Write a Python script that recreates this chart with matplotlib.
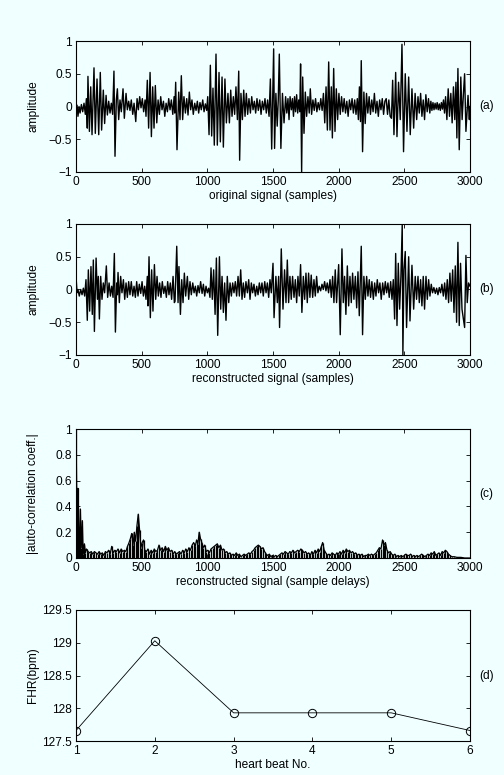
import matplotlib
matplotlib.use("Agg")
import matplotlib.pyplot as plt

# ---- panel (a): original signal, extrema (sample, amplitude)
orig_n = [0, 8, 15, 23, 31, 41, 51, 61, 71, 79, 86, 91, 102, 112, 122, 137, 147, 160, 173, 185,
          195, 208, 218, 229, 239, 249, 259, 269, 279, 289, 297, 307, 315, 325, 335, 345, 358, 368, 381, 391,
          401, 411, 421, 432, 442, 455, 465, 475, 485, 495, 505, 515, 526, 533, 543, 553, 564, 574, 584, 594,
          604, 615, 625, 635, 645, 655, 666, 676, 686, 696, 706, 716, 726, 737, 747, 752, 759, 769, 782, 792,
          802, 812, 822, 833, 843, 853, 863, 873, 883, 893, 904, 914, 924, 934, 944, 954, 965, 975, 985, 995,
          1003, 1013, 1023, 1033, 1043, 1053, 1066, 1076, 1089, 1099, 1112, 1122, 1134, 1145, 1157, 1168, 1178, 1188, 1198, 1208,
          1218, 1229, 1239, 1246, 1256, 1267, 1277, 1287, 1297, 1307, 1317, 1328, 1338, 1348, 1358, 1368, 1378, 1388, 1399, 1409,
          1419, 1429, 1439, 1449, 1459, 1470, 1480, 1490, 1505, 1512, 1522, 1532, 1540, 1548, 1560, 1572, 1584, 1596, 1605, 1614,
          1622, 1630, 1640, 1648, 1656, 1664, 1672, 1680, 1688, 1696, 1704, 1710, 1718, 1726, 1736, 1746, 1756, 1766, 1776, 1784,
          1794, 1804, 1814, 1824, 1834, 1844, 1854, 1864, 1874, 1884, 1894, 1904, 1914, 1924, 1934, 1944, 1952, 1962, 1972, 1982,
          1992, 2002, 2012, 2022, 2032, 2042, 2052, 2062, 2072, 2082, 2092, 2102, 2112, 2122, 2132, 2142, 2150, 2158, 2166, 2172,
          2182, 2192, 2202, 2212, 2222, 2232, 2242, 2252, 2262, 2272, 2282, 2292, 2302, 2312, 2322, 2332, 2342, 2352, 2362, 2372,
          2382, 2392, 2402, 2411, 2421, 2434, 2444, 2456, 2469, 2482, 2494, 2507, 2520, 2533, 2545, 2558, 2571, 2582, 2594, 2604,
          2614, 2624, 2634, 2644, 2654, 2664, 2674, 2684, 2694, 2702, 2710, 2718, 2726, 2734, 2742, 2750, 2758, 2766, 2774, 2782,
          2790, 2798, 2806, 2814, 2824, 2834, 2844, 2854, 2864, 2874, 2884, 2893, 2900, 2908, 2918, 2930, 2940, 2950, 2959, 2969,
          2985, 2995, 3000]
orig_v = [-0.05, 0.02, -0.15, 0.0, -0.1, 0.03, -0.08, 0.05, -0.12, 0.12, -0.33, 0.46, -0.38, 0.3, -0.43, 0.59, -0.41, 0.42, -0.43, 0.52,
          -0.36, 0.25, -0.26, 0.17, -0.13, 0.08, -0.1, 0.05, -0.12, 0.54, -0.76, 0.1, 0.27, -0.2, 0.1, -0.08, 0.27, -0.18, 0.2, -0.05,
          0.08, -0.06, 0.1, -0.12, 0.05, -0.23, 0.12, -0.05, 0.15, -0.02, 0.12, -0.08, 0.1, -0.15, 0.4, -0.33, 0.52, -0.46, 0.3, -0.33,
          0.32, -0.25, 0.1, -0.12, 0.15, -0.05, 0.08, -0.15, 0.05, -0.08, 0.12, -0.05, 0.1, -0.12, 0.15, -0.1, 0.37, -0.66, 0.22, -0.2,
          0.47, -0.2, 0.15, -0.1, 0.12, -0.13, 0.22, -0.05, 0.1, -0.12, 0.05, -0.06, 0.08, -0.1, 0.06, -0.05, 0.1, -0.08, 0.04, -0.06,
          0.15, -0.43, 0.63, -0.45, 0.28, -0.59, 0.8, -0.59, 0.52, -0.54, 0.45, -0.62, 0.42, -0.25, 0.2, -0.25, 0.25, -0.15, 0.15, -0.12,
          0.3, -0.2, 0.54, -0.82, 0.2, -0.2, 0.25, -0.15, 0.2, -0.12, 0.12, -0.1, 0.15, -0.05, 0.08, -0.1, 0.12, -0.06, 0.1, -0.12,
          0.08, -0.05, 0.12, -0.1, 0.1, -0.15, 0.42, -0.65, 0.88, -0.64, 0.2, -0.3, 0.1, 0.8, -0.64, 0.2, -0.25, 0.15, -0.1, 0.12,
          -0.2, 0.15, -0.05, 0.12, -0.15, 0.15, -0.08, 0.18, -0.1, 0.1, -0.08, 0.65, -1.0, 0.45, -0.41, 0.22, -0.15, 0.15, -0.1, 0.27,
          -0.12, 0.1, -0.06, 0.12, -0.08, 0.06, -0.05, 0.12, -0.06, 0.2, -0.25, 0.3, -0.36, 0.68, -0.36, 0.3, -0.48, 0.58, -0.38, 0.27,
          -0.2, 0.2, -0.12, 0.15, -0.08, 0.12, -0.1, 0.08, -0.15, 0.1, -0.05, 0.12, -0.1, 0.1, -0.12, 0.12, -0.2, 0.3, -0.23, 0.7,
          -0.69, 0.22, -0.26, 0.2, -0.1, 0.15, -0.12, 0.1, -0.08, 0.2, -0.1, 0.08, -0.15, 0.1, -0.05, 0.12, -0.12, 0.08, 0.12, -0.12,
          0.1, -0.15, -0.18, 0.4, -0.43, 0.52, -0.46, 0.37, -0.2, 0.95, -0.69, 0.5, -0.38, 0.45, -0.43, 0.27, -0.33, 0.2, -0.2, 0.15,
          -0.1, 0.2, -0.15, 0.1, -0.2, 0.18, -0.08, 0.12, -0.1, 0.08, -0.06, 0.06, -0.05, 0.05, -0.04, 0.06, -0.05, 0.04, -0.06, 0.06,
          -0.04, 0.1, -0.1, 0.15, -0.2, 0.27, -0.15, 0.2, -0.25, 0.3, -0.2, 0.37, -0.48, 0.58, -0.66, 0.45, -0.2, 0.2, 0.5, -0.38,
          0.17, -0.2, 0.0]

# ---- panel (b): reconstructed signal
rec_n = [0, 8, 15, 25, 36, 46, 56, 66, 76, 86, 94, 104, 114, 124, 132, 140, 153, 163, 170, 178,
         188, 198, 208, 218, 231, 241, 252, 262, 272, 282, 292, 300, 310, 315, 320, 330, 340, 350, 361, 371,
         381, 391, 401, 411, 421, 432, 442, 452, 462, 472, 482, 493, 503, 513, 523, 533, 543, 548, 556, 566,
         576, 586, 597, 607, 617, 627, 637, 647, 657, 668, 678, 688, 698, 708, 718, 728, 739, 749, 754, 767,
         777, 784, 795, 805, 815, 825, 835, 848, 858, 868, 878, 889, 899, 909, 919, 929, 939, 949, 960, 970,
         980, 990, 1000, 1010, 1020, 1028, 1038, 1048, 1059, 1069, 1079, 1092, 1102, 1112, 1122, 1132, 1142, 1152, 1163, 1173,
         1183, 1193, 1203, 1213, 1223, 1234, 1244, 1254, 1264, 1274, 1284, 1294, 1305, 1315, 1325, 1335, 1345, 1355, 1366, 1376,
         1386, 1396, 1406, 1416, 1426, 1437, 1447, 1457, 1467, 1477, 1487, 1500, 1508, 1522, 1533, 1543, 1550, 1563, 1576, 1588,
         1599, 1609, 1619, 1629, 1639, 1649, 1660, 1670, 1680, 1690, 1700, 1710, 1720, 1731, 1741, 1751, 1761, 1771, 1781, 1791,
         1802, 1812, 1822, 1832, 1842, 1852, 1863, 1873, 1883, 1893, 1903, 1913, 1923, 1934, 1944, 1954, 1964, 1974, 1984, 2000,
         2012, 2025, 2035, 2045, 2055, 2066, 2076, 2086, 2096, 2106, 2116, 2127, 2137, 2147, 2157, 2172, 2182, 2192, 2203, 2213,
         2223, 2233, 2243, 2253, 2264, 2274, 2284, 2294, 2304, 2314, 2324, 2335, 2345, 2355, 2365, 2375, 2385, 2396, 2406, 2416,
         2426, 2434, 2444, 2454, 2464, 2474, 2484, 2489, 2497, 2507, 2517, 2533, 2543, 2558, 2571, 2583, 2593, 2604, 2614, 2624,
         2634, 2644, 2654, 2665, 2675, 2685, 2695, 2705, 2715, 2725, 2736, 2746, 2756, 2766, 2776, 2786, 2797, 2807, 2817, 2827,
         2837, 2847, 2857, 2868, 2878, 2888, 2898, 2908, 2918, 2928, 2939, 2959, 2969, 2979, 2989, 3000]
rec_v = [0.2, -0.05, 0.0, -0.1, 0.0, -0.08, 0.02, -0.1, 0.15, -0.47, 0.3, -0.33, 0.35, -0.38, 0.45, -0.64, 0.48, -0.15, 0.2, -0.45,
         0.2, -0.15, 0.1, -0.05, 0.36, -0.12, 0.1, -0.1, 0.05, -0.12, 0.55, -0.65, 0.1, -0.08, 0.26, -0.2, 0.2, -0.05, 0.15, -0.15,
         0.1, -0.12, 0.12, -0.08, 0.12, -0.1, 0.05, -0.12, 0.12, -0.1, 0.08, -0.06, 0.12, -0.1, 0.05, -0.15, 0.2, -0.25, 0.5, -0.43,
         0.3, -0.33, 0.38, -0.15, 0.2, -0.1, 0.1, -0.12, 0.12, -0.06, 0.05, -0.12, 0.12, -0.08, 0.1, -0.15, 0.2, -0.2, -0.18, 0.66,
         -0.2, 0.35, -0.38, 0.15, -0.2, 0.25, -0.1, 0.2, -0.15, 0.12, -0.08, 0.1, -0.05, 0.05, -0.1, 0.06, -0.05, 0.12, -0.06, 0.08,
         -0.1, 0.05, -0.05, 0.02, -0.12, 0.33, -0.15, 0.3, -0.38, 0.48, -0.7, 0.5, -0.3, 0.2, -0.35, 0.1, -0.47, 0.2, -0.2, 0.1,
         -0.1, 0.1, -0.05, 0.12, -0.1, 0.2, -0.1, 0.3, -0.15, 0.1, -0.12, 0.12, -0.05, 0.15, -0.15, 0.1, -0.05, 0.08, -0.1, 0.05,
         -0.08, 0.1, -0.05, 0.1, -0.1, 0.12, -0.05, 0.1, -0.12, 0.15, -0.05, 0.4, -0.43, 0.2, -0.2, 0.2, -0.58, 0.62, -0.3, 0.3,
         -0.2, 0.45, -0.2, 0.2, -0.15, 0.2, -0.12, 0.15, -0.2, 0.2, -0.1, 0.38, -0.35, 0.2, -0.15, 0.25, -0.2, 0.25, -0.12, 0.22,
         -0.12, 0.15, -0.1, 0.2, -0.05, 0.05, -0.02, 0.08, 0.0, 0.12, -0.02, 0.1, -0.05, 0.15, -0.12, 0.2, -0.2, 0.3, -0.2, 0.38,
         -0.69, 0.62, -0.2, 0.2, -0.38, 0.36, -0.25, 0.2, -0.2, 0.25, -0.15, 0.2, -0.28, 0.27, -0.4, 0.66, -0.69, 0.2, -0.15, 0.2,
         -0.1, 0.15, -0.12, 0.12, -0.15, 0.1, -0.1, 0.15, -0.05, 0.1, -0.15, 0.1, -0.08, 0.12, -0.05, 0.1, -0.12, 0.12, -0.15, 0.15,
         -0.45, 0.55, -0.55, 0.4, -0.3, 0.2, 1.0, -1.0, 0.3, 0.58, -0.58, 0.5, -0.48, 0.37, -0.3, 0.2, -0.15, 0.2, -0.2, 0.15,
         -0.25, 0.2, -0.3, 0.2, -0.15, 0.15, -0.1, 0.08, -0.05, 0.03, -0.06, 0.02, -0.08, 0.03, -0.05, 0.08, -0.1, 0.1, -0.15, 0.15,
         -0.2, 0.25, -0.18, 0.3, -0.35, 0.36, -0.5, 0.72, -0.55, 0.4, -0.3, -0.58, 0.52, -0.2, 0.1, 0.05]

# ---- panel (c): |auto-correlation| peaks (lag, value)
lag = [0, 5, 10, 15, 20, 26, 33, 40, 48, 55, 64, 72, 80, 92, 104, 116, 128, 140, 152, 164,
       176, 188, 200, 212, 224, 236, 248, 260, 272, 284, 296, 308, 320, 332, 344, 356, 368, 380, 392, 404,
       414, 424, 434, 444, 454, 464, 474, 484, 494, 504, 514, 524, 536, 548, 560, 572, 584, 596, 608, 620,
       632, 644, 656, 668, 680, 692, 704, 716, 728, 740, 752, 764, 776, 788, 800, 812, 824, 836, 848, 860,
       872, 884, 896, 908, 918, 928, 938, 948, 958, 968, 980, 992, 1004, 1016, 1028, 1040, 1052, 1064, 1076, 1088,
       1100, 1112, 1124, 1136, 1148, 1160, 1172, 1184, 1196, 1208, 1220, 1232, 1244, 1256, 1268, 1280, 1292, 1304, 1316, 1328,
       1340, 1352, 1364, 1376, 1388, 1400, 1412, 1424, 1436, 1448, 1460, 1472, 1484, 1496, 1508, 1520, 1532, 1544, 1556, 1568,
       1580, 1592, 1604, 1616, 1628, 1640, 1652, 1664, 1676, 1688, 1700, 1712, 1724, 1736, 1748, 1760, 1772, 1784, 1796, 1808,
       1820, 1832, 1844, 1856, 1868, 1878, 1890, 1902, 1914, 1926, 1938, 1950, 1962, 1974, 1986, 1998, 2010, 2022, 2034, 2046,
       2058, 2070, 2082, 2094, 2106, 2118, 2130, 2142, 2154, 2166, 2178, 2190, 2202, 2214, 2226, 2238, 2250, 2262, 2274, 2286,
       2298, 2310, 2322, 2334, 2344, 2356, 2368, 2380, 2392, 2404, 2416, 2428, 2440, 2452, 2464, 2476, 2488, 2500, 2512, 2524,
       2536, 2548, 2560, 2572, 2584, 2596, 2608, 2620, 2632, 2644, 2656, 2668, 2680, 2692, 2704, 2716, 2728, 2740, 2752, 2764,
       2776, 2788, 2800, 2812, 2824, 2836, 2848, 2860, 2880, 2900, 2930, 2960, 3000]
acf = [1.0, 0.54, 0.06, 0.54, 0.2, 0.12, 0.38, 0.08, 0.29, 0.03, 0.11, 0.04, 0.07, 0.05, 0.04, 0.05, 0.03, 0.05, 0.04, 0.03,
       0.05, 0.03, 0.04, 0.02, 0.05, 0.04, 0.06, 0.03, 0.09, 0.04, 0.06, 0.05, 0.07, 0.04, 0.07, 0.05, 0.06, 0.05, 0.09, 0.12,
       0.15, 0.19, 0.1, 0.2, 0.13, 0.25, 0.34, 0.22, 0.08, 0.12, 0.14, 0.06, 0.05, 0.07, 0.03, 0.06, 0.04, 0.07, 0.05, 0.06,
       0.1, 0.06, 0.08, 0.05, 0.09, 0.06, 0.08, 0.05, 0.06, 0.03, 0.05, 0.03, 0.04, 0.05, 0.03, 0.06, 0.04, 0.07, 0.05, 0.08,
       0.06, 0.1, 0.12, 0.09, 0.14, 0.11, 0.2, 0.15, 0.12, 0.08, 0.1, 0.05, 0.06, 0.04, 0.07, 0.08, 0.09, 0.1, 0.11, 0.08,
       0.1, 0.06, 0.07, 0.04, 0.05, 0.03, 0.04, 0.02, 0.03, 0.02, 0.04, 0.02, 0.03, 0.01, 0.02, 0.03, 0.02, 0.03, 0.04, 0.03,
       0.05, 0.06, 0.08, 0.09, 0.1, 0.09, 0.07, 0.08, 0.05, 0.03, 0.02, 0.03, 0.01, 0.02, 0.01, 0.02, 0.01, 0.02, 0.03, 0.04,
       0.03, 0.05, 0.04, 0.03, 0.05, 0.04, 0.06, 0.04, 0.05, 0.06, 0.05, 0.07, 0.06, 0.04, 0.05, 0.03, 0.04, 0.02, 0.05, 0.03,
       0.06, 0.04, 0.07, 0.05, 0.09, 0.12, 0.06, 0.04, 0.02, 0.03, 0.02, 0.04, 0.03, 0.02, 0.04, 0.03, 0.05, 0.03, 0.06, 0.04,
       0.07, 0.05, 0.06, 0.04, 0.05, 0.03, 0.04, 0.02, 0.03, 0.02, 0.03, 0.01, 0.02, 0.02, 0.03, 0.02, 0.03, 0.02, 0.03, 0.04,
       0.06, 0.08, 0.07, 0.14, 0.1, 0.12, 0.06, 0.04, 0.05, 0.03, 0.02, 0.03, 0.01, 0.02, 0.01, 0.02, 0.01, 0.02, 0.03, 0.02,
       0.02, 0.03, 0.01, 0.02, 0.01, 0.02, 0.01, 0.02, 0.03, 0.02, 0.01, 0.02, 0.03, 0.02, 0.04, 0.03, 0.05, 0.02, 0.03, 0.04,
       0.02, 0.05, 0.04, 0.06, 0.05, 0.03, 0.02, 0.01, 0.01, 0.005, 0.005, 0.0, 0.0]

# ---- panel (d): fetal heart rate per beat
beat = [1, 2, 3, 4, 5, 6]
fhr = [127.66, 129.03, 127.93, 127.93, 127.93, 127.66]

bg = "#f0ffff"
plt.rcParams["font.family"] = ["Liberation Sans", "DejaVu Sans"]
plt.rcParams["font.size"] = 8.6

fig = plt.figure(figsize=(5.04, 7.75), dpi=100, facecolor=bg)

left, width = 76 / 504, 394 / 504
rects = [(41, 172), (224, 355), (429, 558), (610, 741)]
axes = []
for top, bot in rects:
    ax = fig.add_axes([left, 1 - bot / 775, width, (bot - top) / 775])
    ax.set_facecolor(bg)
    ax.tick_params(direction="in", length=3, width=0.6, top=True, right=True, pad=3)
    for s in ax.spines.values():
        s.set_linewidth(0.8)
    axes.append(ax)

ax1, ax2, ax3, ax4 = axes

ax1.plot(orig_n, orig_v, color="black", lw=1.0)
ax1.set_xlim(0, 3000)
ax1.set_ylim(-1, 1)
ax1.set_yticks([-1, -0.5, 0, 0.5, 1])
ax1.set_yticklabels(["\u22121", "\u22120.5", "0", "0.5", "1"])
ax1.set_xticks(range(0, 3001, 500))
ax1.set_ylabel("amplitude")
ax1.set_xlabel("original signal (samples)", labelpad=1)

ax2.plot(rec_n, rec_v, color="black", lw=1.0)
ax2.set_xlim(0, 3000)
ax2.set_ylim(-1, 1)
ax2.set_yticks([-1, -0.5, 0, 0.5, 1])
ax2.set_yticklabels(["\u22121", "\u22120.5", "0", "0.5", "1"])
ax2.set_xticks(range(0, 3001, 500))
ax2.set_ylabel("amplitude")
ax2.set_xlabel("reconstructed signal (samples)", labelpad=1)

ax3.vlines(lag, 0, acf, color="black", lw=0.9)
ax3.plot(lag, acf, color="black", lw=0.9)
ax3.set_xlim(0, 3000)
ax3.set_ylim(0, 1)
ax3.set_yticks([0, 0.2, 0.4, 0.6, 0.8, 1])
ax3.set_yticklabels(["0", "0.2", "0.4", "0.6", "0.8", "1"])
ax3.set_xticks(range(0, 3001, 500))
ax3.set_ylabel("|auto-correlation coeff.|")
ax3.set_xlabel("reconstructed signal (sample delays)", labelpad=1)

ax4.plot(beat, fhr, color="black", lw=0.6, marker="o", ms=6, mfc="none", mec="black", mew=0.7)
ax4.set_xlim(1, 6)
ax4.set_ylim(127.5, 129.5)
ax4.set_yticks([127.5, 128, 128.5, 129, 129.5])
ax4.set_yticklabels(["127.5", "128", "128.5", "129", "129.5"])
ax4.set_xticks(beat)
ax4.set_ylabel("FHR(bpm)")
ax4.set_xlabel("heart beat No.", labelpad=1)

for ax, tag in zip(axes, ["(a)", "(b)", "(c)", "(d)"]):
    ax.yaxis.set_label_coords(-37 / 394, 0.5)
    ax.text(1.023, 0.5, tag, transform=ax.transAxes, ha="left", va="center")

fig.savefig("out.png", dpi=100, facecolor=bg)
